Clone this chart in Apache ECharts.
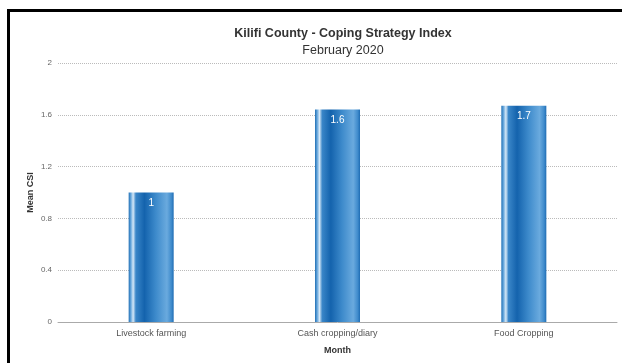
<!DOCTYPE html>
<html><head><meta charset="utf-8">
<script src="https://cdn.jsdelivr.net/npm/echarts@6/dist/echarts.min.js"></script>
<style>
html,body{margin:0;padding:0;background:#fff;}
#frame{position:absolute;left:7px;top:9px;width:615px;height:354px;border-left:3px solid #000;border-top:3px solid #000;box-sizing:border-box;}
#c{position:absolute;left:0;top:0;width:622px;height:363px;}
</style></head>
<body>
<div id="frame"></div>
<div id="c"></div>
<script>
const categories = ["Livestock farming", "Cash cropping/diary", "Food Cropping"];
const meanCSI = [1.0, 1.64, 1.67];
const yTicks = [0, 0.4, 0.8, 1.2, 1.6, 2];

const chart = echarts.init(document.getElementById('c'));
const barGrad = new echarts.graphic.LinearGradient(0, 0, 1, 0, [
  {offset: 0, color: '#1f6fb5'},
  {offset: 0.05, color: '#6aa9dd'},
  {offset: 0.1, color: '#d6e8f7'},
  {offset: 0.16, color: '#3a86c8'},
  {offset: 0.35, color: '#1463ad'},
  {offset: 0.6, color: '#3d8acb'},
  {offset: 0.85, color: '#6aaade'},
  {offset: 0.95, color: '#3f8bcc'},
  {offset: 1, color: '#1e6cb3'}
]);
chart.setOption({
  animation: false,
  title: [
    {text: 'Kilifi County - Coping Strategy Index', left: 338, textAlign: 'center', top: 22,
     textStyle: {fontFamily: 'Liberation Sans', fontSize: 12.5, fontWeight: 'bold', color: '#333'}},
    {text: 'February 2020', left: 338, textAlign: 'center', top: 39,
     textStyle: {fontFamily: 'Liberation Sans', fontSize: 12.5, fontWeight: 'normal', color: '#333'}}
  ],
  grid: {left: 58, right: 5, top: 63, bottom: 41, containLabel: false},
  xAxis: {
    type: 'category', data: categories,
    name: 'Month', nameLocation: 'middle', nameGap: 24, nameMoveOverlap: false,
    nameTextStyle: {fontFamily: 'Liberation Sans', fontSize: 9, fontWeight: 'bold', color: '#333'},
    axisLine: {lineStyle: {color: '#aaa'}},
    axisTick: {show: false},
    axisLabel: {fontFamily: 'Liberation Sans', fontSize: 9, color: '#555', margin: 7}
  },
  yAxis: {
    type: 'value', min: yTicks[0], max: yTicks[yTicks.length - 1], interval: 0.4,
    name: 'Mean CSI', nameLocation: 'middle', nameGap: 23, nameMoveOverlap: false,
    nameTextStyle: {fontFamily: 'Liberation Sans', fontSize: 9, fontWeight: 'bold', color: '#333'},
    axisLine: {show: false}, axisTick: {show: false},
    axisLabel: {fontFamily: 'Liberation Sans', fontSize: 8, color: '#666', margin: 6,
      formatter: v => String(Number(v.toFixed(1)))},
    splitLine: {lineStyle: {type: 'dotted', color: '#bbb'}}
  },
  series: [{
    type: 'bar', data: meanCSI, barWidth: 45,
    itemStyle: {color: barGrad},
    label: {show: true, position: 'insideTop', distance: 6, color: '#fff',
      fontFamily: 'Liberation Sans', fontSize: 10,
      formatter: p => String(Number(p.value.toFixed(1)))}
  }]
});
</script>
</body></html>
